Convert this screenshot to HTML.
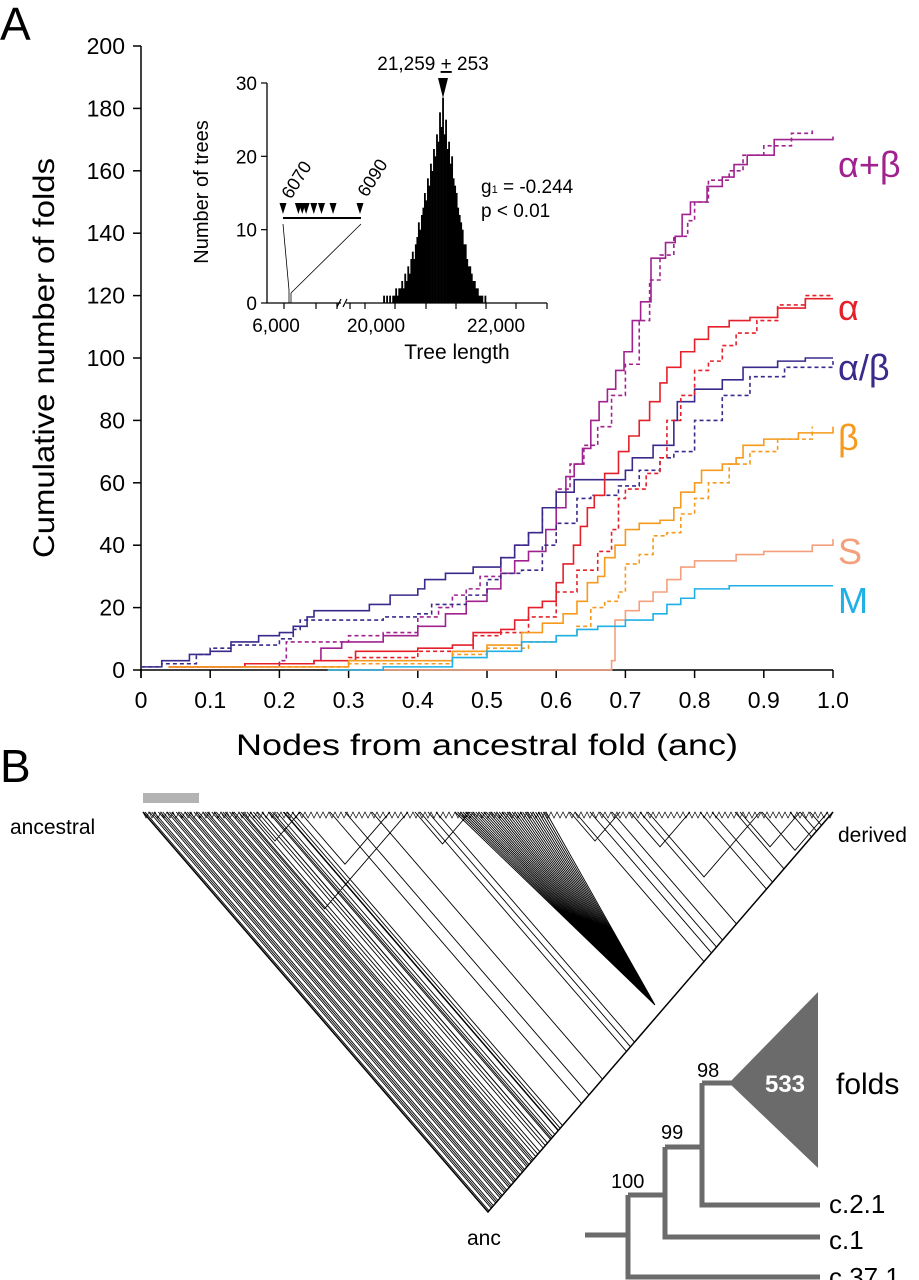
<!DOCTYPE html>
<html><head><meta charset="utf-8"><style>
html,body{margin:0;padding:0;background:#fff;}
svg{display:block;font-family:"Liberation Sans",Arial,sans-serif;}
</style></head><body>
<svg id="fig" width="919" height="1280" viewBox="0 0 919 1280" xmlns="http://www.w3.org/2000/svg">
<text x="0" y="40" font-size="46">A</text>
<text x="0" y="782" font-size="46">B</text>
<g id="mainAxes"></g>
<g id="series"></g>
<g id="inset"></g>
<g id="tree"></g>
<g id="clado"></g>
</svg>
<script>
// ---------- Panel A data ----------
const xTicks = [0,0.1,0.2,0.3,0.4,0.5,0.6,0.7,0.8,0.9,1.0];
const xTickLabels = ["0","0.1","0.2","0.3","0.4","0.5","0.6","0.7","0.8","0.9","1.0"];
const yTicks = [0,20,40,60,80,100,120,140,160,180,200];
const seriesNames = ["alpha-plus-beta","alpha","alpha-slash-beta","beta","s","m"];
const abSolidX = [0.04,0.2,0.25,0.26,0.29,0.35,0.4,0.44,0.47,0.5,0.52,0.54,0.56,0.585,0.6,0.614,0.626,0.638,0.65,0.662,0.674,0.686,0.698,0.71,0.722,0.737,0.758,0.772,0.782,0.794,0.818,0.84,0.857,0.876,0.915,1.0];
const abSolidY = [1,2,3,7,9,11,14,18,22,26,31,35,38,45,52,62,66,71,80,86,90,96,102,112,118,132,137,139,146,150,155,158,162,165,170,171];
const abDashX = [0.04,0.15,0.2,0.21,0.3,0.35,0.4,0.43,0.45,0.47,0.49,0.52,0.54,0.56,0.58,0.6,0.62,0.64,0.66,0.68,0.7,0.72,0.735,0.75,0.77,0.79,0.8,0.82,0.85,0.87,0.9,0.94,0.97];
const abDashY = [1,2,3,9,11,12,17,20,24,26,30,36,40,44,52,58,66,72,78,88,98,112,125,133,139,144,150,157,160,165,168,172,173];
const aSolidX = [0.04,0.15,0.25,0.31,0.4,0.45,0.48,0.52,0.54,0.56,0.58,0.6,0.61,0.625,0.635,0.645,0.655,0.67,0.69,0.705,0.72,0.735,0.75,0.76,0.78,0.8,0.82,0.85,0.88,0.92,0.96,1.0];
const aSolidY = [1,2,3,6,7,8,12,13,16,20,22,28,34,40,46,52,56,63,70,75,80,86,92,97,102,106,110,112,113,116,119,119];
const aDashX = [0.04,0.3,0.4,0.48,0.52,0.56,0.6,0.63,0.66,0.68,0.69,0.7,0.73,0.75,0.76,0.78,0.8,0.82,0.84,0.86,0.89,0.92,0.96,1.0];
const aDashY = [1,4,6,11,12,17,25,32,38,45,55,58,63,68,80,88,96,99,104,108,112,117,120,120];
const abetaSolidX = [0,0.03,0.07,0.1,0.13,0.17,0.2,0.22,0.24,0.25,0.33,0.36,0.4,0.41,0.44,0.48,0.52,0.54,0.56,0.58,0.6,0.626,0.7,0.71,0.74,0.77,0.775,0.8,0.84,0.87,0.92,0.96,1.0];
const abetaSolidY = [1,3,5,6,9,11,12,14,17,19,21,24,26,29,31,33,36,40,44,52,57,61,64,68,72,80,86,90,93,97,99,100,100];
const abetaDashX = [0,0.03,0.08,0.1,0.13,0.2,0.22,0.23,0.35,0.4,0.42,0.47,0.5,0.52,0.55,0.58,0.6,0.63,0.65,0.69,0.72,0.75,0.77,0.8,0.84,0.88,0.93,1.0];
const abetaDashY = [1,2,5,7,8,10,13,16,17,18,21,24,29,31,32,40,47,55,56,59,64,68,70,80,88,94,97,99];
const bSolidX = [0.04,0.3,0.45,0.5,0.55,0.58,0.61,0.63,0.645,0.66,0.67,0.685,0.7,0.72,0.75,0.77,0.78,0.8,0.81,0.84,0.86,0.87,0.9,0.95,1.0];
const bSolidY = [1,3,6,8,12,15,18,22,28,30,36,40,45,47,48,52,57,60,64,66,68,72,74,76,78];
const bDashX = [0.04,0.3,0.45,0.5,0.56,0.6,0.63,0.65,0.67,0.69,0.7,0.72,0.74,0.76,0.78,0.8,0.82,0.85,0.88,0.92,0.97];
const bDashY = [1,2,5,7,9,11,14,20,22,25,34,37,43,44,50,55,60,66,70,74,78];
const sX = [0.27,0.68,0.685,0.7,0.72,0.74,0.76,0.78,0.8,0.86,0.9,0.97,1.0];
const sY = [0,3,16,19,22,25,29,33,35,37,38,40,42];
const mX = [0.27,0.35,0.45,0.5,0.55,0.6,0.63,0.66,0.7,0.74,0.76,0.78,0.8,0.85,1.0];
const mY = [0,1,4,6,9,11,13,14,16,18,21,23,26,27,27];

// ---------- Inset data ----------
const insetYTicks = [0,10,20,30];
const insetXTickLabels = ["6,000","20,000","22,000"];
const histStart = 20300;
const histBinWidth = 25;
const histCounts = [1,0,1,0,1,0,1,1,2,1,2,2,3,2,4,3,5,4,6,7,6,8,9,11,10,12,13,15,14,17,16,19,18,21,20,23,22,26,24,28,23,25,21,22,19,20,17,16,15,13,12,11,10,8,8,6,5,5,4,3,3,2,2,1,1,1,0,1];
const outlierLengths = [6070,6074,6075,6076,6078,6080,6083,6090];

const NS="http://www.w3.org/2000/svg";
function mk(tag, attrs, parent){const e=document.createElementNS(NS,tag);for(const k in attrs)e.setAttribute(k,attrs[k]);parent.appendChild(e);return e;}

const X0=141,X1=833,Y0=670,Y1=46;
const sx=v=>X0+(X1-X0)*v;
const sy=v=>Y0-(Y0-Y1)*v/200;
const ax=document.getElementById('mainAxes');
let l=mk('line',{x1:X0,y1:Y1,x2:X0,y2:Y0+8,stroke:'#000','stroke-width':1.5},ax);


l=mk('line',{x1:X0-1,y1:Y0,x2:X1,y2:Y0,stroke:'#000','stroke-width':1.5},ax);


yTicks.forEach(v=>{
  const t=mk('line',{x1:X0-8,y1:sy(v),x2:X0,y2:sy(v),stroke:'#000','stroke-width':1.5},ax);
  
  
  const tx=mk('text',{x:X0-16,y:sy(v)+8,'font-size':23,'text-anchor':'end'},ax);
  tx.textContent=v;
  
  
});
xTicks.forEach((v,i)=>{
  const t=mk('line',{x1:sx(v),y1:Y0,x2:sx(v),y2:Y0+8,stroke:'#000','stroke-width':1.5},ax);
  
  
  const tx=mk('text',{x:sx(v),y:Y0+38,'font-size':23,'text-anchor':'middle'},ax);
  tx.textContent=xTickLabels[i];
  
  
});
let tt=mk('text',{x:0,y:0,'font-size':30,'text-anchor':'middle',transform:'translate(54,358) rotate(-90)',textLength:400,lengthAdjust:'spacingAndGlyphs'},ax);
tt.textContent='Cumulative number of folds';


tt=mk('text',{x:487,y:755,'font-size':30,'text-anchor':'middle',textLength:502,lengthAdjust:'spacingAndGlyphs'},ax);
tt.textContent='Nodes from ancestral fold (anc)';



const sg=document.getElementById('series');
function stepPath(xs,ys){let d='M'+sx(xs[0])+','+sy(ys[0]);for(let i=1;i<xs.length;i++){d+=' H'+sx(xs[i])+' V'+sy(ys[i]);}return d;}
const seriesDefs=[
 [abSolidX,abSolidY,'#a0228f',false,'alpha-plus-beta-solid'],
 [abDashX,abDashY,'#a0228f',true,'alpha-plus-beta-dashed'],
 [abetaSolidX,abetaSolidY,'#3b2a8c',false,'alpha-slash-beta-solid'],
 [abetaDashX,abetaDashY,'#3b2a8c',true,'alpha-slash-beta-dashed'],
 [aSolidX,aSolidY,'#e5202a',false,'alpha-solid'],
 [aDashX,aDashY,'#e5202a',true,'alpha-dashed'],
 [bSolidX,bSolidY,'#f59a1d',false,'beta-solid'],
 [bDashX,bDashY,'#f59a1d',true,'beta-dashed'],
 [sX,sY,'#f5a07c',false,'s-line'],
 [mX,mY,'#1fb0e6',false,'m-line']
];
seriesDefs.forEach(s=>{
  const p=mk('path',{d:stepPath(s[0],s[1]),fill:'none',stroke:s[2],'stroke-width':1.6},sg);
  if(s[3])p.setAttribute('stroke-dasharray','4,3');
  
  
});
const labs=[['α+β',165,'#a0228f','label-alpha-plus-beta'],['α',308,'#e5202a','label-alpha'],['α/β',368,'#3b2a8c','label-alpha-slash-beta'],['β',438,'#f59a1d','label-beta'],['S',552,'#f5a07c','label-s'],['M',601,'#1fb0e6','label-m']];
labs.forEach(a=>{
  const t=mk('text',{x:838,y:a[1]+12,'font-size':36,fill:a[2]},sg);
  t.textContent=a[0];
  
  
});

// inset
const ig=document.getElementById('inset');
const IX0=267,IX1=547,IY0=303,IY1=83;
const isy=v=>IY0-(IY0-IY1)*v/30;
const isx=v=>365+(v-20000)*0.0605;
l=mk('path',{d:`M${IX0},${IY1} V${IY0} H341 M346,${IY0} H${IX1}`,fill:'none',stroke:'#000','stroke-width':1.3},ig);


l=mk('path',{d:`M337,${IY0+4} L341,${IY0-4} M343,${IY0+4} L347,${IY0-4}`,stroke:'#000','stroke-width':1.2,fill:'none'},ig);


insetYTicks.forEach(v=>{
  const t=mk('line',{x1:IX0-6,y1:isy(v),x2:IX0,y2:isy(v),stroke:'#000','stroke-width':1.2},ig);
  
  
  const tx=mk('text',{x:IX0-10,y:isy(v)+7,'font-size':19,'text-anchor':'end'},ig);
  tx.textContent=v;
  
  
});
[284,316,337,350,365,395,426,456,486,516,547].forEach(x=>{
  const t=mk('line',{x1:x,y1:IY0,x2:x,y2:IY0+6,stroke:'#000','stroke-width':1.2},ig);
  
  
});
[[276,0],[376,1],[496,2]].forEach(a=>{
  const tx=mk('text',{x:a[0],y:IY0+29,'font-size':19,'text-anchor':'middle'},ig);
  tx.textContent=insetXTickLabels[a[1]];
  
  
});
histCounts.forEach((c,i)=>{
  if(!c)return;
  const x=isx(histStart+i*histBinWidth);
  const r=mk('rect',{x:x,y:isy(c),width:Math.max(0.6,isx(histStart+(i+1)*histBinWidth)-x+0.3),height:IY0-isy(c),fill:'#000'},ig);
  
  
});
tt=mk('text',{x:0,y:0,'font-size':20,'text-anchor':'middle',transform:'translate(208,192) rotate(-90)'},ig);
tt.textContent='Number of trees';


tt=mk('text',{x:457,y:359,'font-size':21,'text-anchor':'middle'},ig);
tt.textContent='Tree length';


tt=mk('text',{x:433,y:70,'font-size':19,'text-anchor':'middle'},ig);
tt.innerHTML='21,259 <tspan text-decoration="underline">+</tspan> 253';


l=mk('path',{d:'M438,78 L448,78 L443,98 Z',fill:'#000'},ig);


tt=mk('text',{x:481,y:193,'font-size':19},ig);
tt.innerHTML='g<tspan font-size="11">1</tspan> = -0.244';


tt=mk('text',{x:481,y:217,'font-size':19},ig);
tt.textContent='p < 0.01';


const ox=v=>283+(v-6070)*3.85;
l=mk('line',{x1:283,y1:218,x2:361,y2:218,stroke:'#000','stroke-width':2},ig);


outlierLengths.forEach(v=>{
  const a=mk('path',{d:`M${ox(v)-3.5},203 L${ox(v)+3.5},203 L${ox(v)},214 Z`,fill:'#000'},ig);
  
  
});
l=mk('path',{d:'M283,224 L289,290 M361,224 L291,293 M289,290 V303 M291,293 V303',stroke:'#000','stroke-width':0.8,fill:'none'},ig);


tt=mk('text',{x:0,y:0,'font-size':18,transform:'translate(291,200) rotate(-58)'},ig);
tt.textContent='6070';


tt=mk('text',{x:0,y:0,'font-size':18,transform:'translate(367,198) rotate(-58)'},ig);
tt.textContent='6090';



// ---------- Panel B tree ----------
const tg=document.getElementById('tree');
const TL=[143,812],TR=[833,812],AP=[488,1212];
let r=mk('rect',{x:143,y:793,width:56,height:10,fill:'#b3b3b3'},tg);


let d='';
function endPt(x0){const u=(833-x0)/690;return [x0+345*u,812+400*u];}
let x=145;
for(let i=0;i<42;i++){const e=endPt(x);d+=`M${x.toFixed(1)},812 L${e[0].toFixed(1)},${e[1].toFixed(1)} `;x+=(i%3==0?4.5:2.2)+(i>30?2:0);}
for(const x0 of [262,270,284,292,330,345,372,420,428,436,575,590,600,612,640,700,712,735,790,800]){const e=endPt(x0);d+=`M${x0},812 L${e[0].toFixed(1)},${e[1].toFixed(1)} `;}
for(let i=0;i<36;i++){const x0=455+i*2.6;d+=`M${x0.toFixed(1)},812 L655,1005 `;}
function clade(a,b){const t=(b-a)/690;const ax2=(a+b)/2,ay=812+400*t;d+=`M${a},812 L${ax2},${ay} L${b},812 `;}
[[241,408],[300,390],[250,300],[415,470],[570,620],[630,690],[648,760],[740,800],[762,828],[810,833]].forEach(c=>clade(c[0],c[1]));
l=mk('path',{d:d,stroke:'#000','stroke-width':0.9,fill:'none'},tg);


let z='M143,812';
for(let xx=143;xx<833;xx+=6){z+=` L${xx+3},818 L${xx+6},812`;}
l=mk('path',{d:z,stroke:'#000','stroke-width':0.7,fill:'none'},tg);


l=mk('path',{d:`M${TL[0]},${TL[1]} L${AP[0]},${AP[1]} L${TR[0]},${TR[1]}`,stroke:'#000','stroke-width':1.5,fill:'none'},tg);


[['ancestral',10,834,'ancestral-label'],['derived',838,842,'derived-label'],['anc',467,1245,'anc-label']].forEach(a=>{
  const t=mk('text',{x:a[1],y:a[2],'font-size':21},tg);
  t.textContent=a[0];
  
  
});

const cg=document.getElementById('clado');
l=mk('path',{d:'M585,1235 H628 M628,1195 V1277 H820 M628,1195 H665 V1147 M665,1147 V1237 H820 M665,1147 H702 V1083 M702,1083 V1205 H820 M702,1083 H732',stroke:'#6b6b6b','stroke-width':5,fill:'none'},cg);


l=mk('path',{d:'M729,1083 L818,992 L818,1168 Z',fill:'#6b6b6b'},cg);


tt=mk('text',{x:785,y:1092,'font-size':24,'font-weight':'bold',fill:'#fff','text-anchor':'middle'},cg);
tt.textContent='533';


[['folds',836,1094,30,'folds-label'],['c.2.1',829,1213,26,'c21-label'],['c.1',829,1249,26,'c1-label'],['c.37.1',829,1286,26,'c371-label'],['98',697,1077,20,'bootstrap-98'],['99',661,1139,20,'bootstrap-99'],['100',611,1188,20,'bootstrap-100']].forEach(a=>{
  const t=mk('text',{x:a[1],y:a[2],'font-size':a[3]},cg);
  t.textContent=a[0];
  
  
});
</script>
</body></html>
